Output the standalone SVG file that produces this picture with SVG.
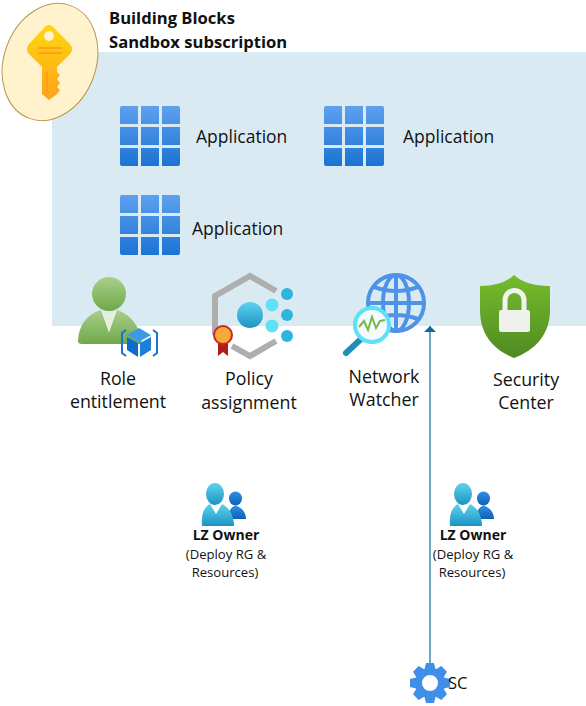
<svg xmlns="http://www.w3.org/2000/svg" xmlns:xlink="http://www.w3.org/1999/xlink" width="586" height="706" viewBox="0 0 586 706">
<style>
text{font-family:"Open Sans","Noto Sans","Liberation Sans",sans-serif;fill:#111}
.t{font-size:16.6px}
.a{font-size:17.500px}
.c{font-size:17.800px;text-anchor:middle}
.b{font-weight:700}
.s{font-size:13.100px;text-anchor:middle}
.o{font-size:14px;font-weight:700;text-anchor:middle}
</style>
<defs>
<linearGradient id="gb" gradientUnits="userSpaceOnUse" x1="0" y1="0" x2="0" y2="60"><stop offset="0" stop-color="#5ea0ef"/><stop offset="1" stop-color="#1b73d3"/></linearGradient>
<linearGradient id="gk" x1="0" y1="0" x2="0" y2="1"><stop offset="0" stop-color="#ffd70f"/><stop offset="1" stop-color="#fea11b"/></linearGradient>
<linearGradient id="gg" x1="0" y1="0" x2="0" y2="1"><stop offset="0" stop-color="#a9cf8a"/><stop offset="1" stop-color="#6fa84a"/></linearGradient>
<linearGradient id="gs" x1="0" y1="0" x2="0" y2="1"><stop offset="0" stop-color="#76bc2d"/><stop offset="1" stop-color="#4f8a22"/></linearGradient>
<linearGradient id="gc" x1="0" y1="0" x2="0" y2="1"><stop offset="0" stop-color="#5fd3ee"/><stop offset="1" stop-color="#1b93c4"/></linearGradient>
<linearGradient id="gd" x1="0" y1="0" x2="0" y2="1"><stop offset="0" stop-color="#2f8fe6"/><stop offset="1" stop-color="#0f5fb5"/></linearGradient>
<marker id="arr" markerWidth="8" markerHeight="12" refX="6" refY="6" orient="auto" markerUnits="userSpaceOnUse"><path d="M0 0L6 6L0 12Z" fill="#0f6a9c"/></marker>
<g id="grid" fill="url(#gb)">
<path d="M0 2a2 2 0 0 1 2-2H18V18H0Z M21 0H39V18H21Z M42 0H58a2 2 0 0 1 2 2V18H42Z"/>
<path d="M0 21H18V39H0Z M21 21H39V39H21Z M42 21H60V39H42Z"/>
<path d="M0 42H18V60H2a2 2 0 0 1-2-2Z M21 42H39V60H21Z M42 42H60V58a2 2 0 0 1-2 2H42Z"/>
</g>
<g id="owner">
<ellipse cx="20.500" cy="14.500" rx="6.500" ry="7" fill="url(#gd)"/>
<path d="M13 35C13 27 16 23 20.500 21.500C26 23 31 28 31 35Z" fill="url(#gd)"/>
<ellipse cx="0" cy="10" rx="9" ry="11" fill="url(#gc)"/>
<path d="M-13 42C-14 30 -11 23 -5 20L1 30L7 20C13 23 19 30 19 42Z" fill="url(#gc)"/>
</g>
<path id="tooth" d="M-4 -20H4L6 -12H-6Z" fill="#3f8fe8"/>
</defs>

<rect id="panel" x="52" y="52" width="534" height="274" fill="#d9eaf3"/>

<g id="key">
<ellipse cx="50" cy="62" rx="46" ry="60" transform="rotate(20 50 62)" fill="#fff2cc" stroke="#b49a50"/>
<path d="M49 25Q52 25 55 29L70 44Q74 49 70 54L57 67V72L60 75L57 79L60 83L57 87L60 90L57 94L49 100L42 94V67L29 54Q25 49 29 44L43 29Q46 25 49 25Z" fill="url(#gk)"/>
<circle cx="49" cy="36" r="5" fill="#fff2cc"/>
<path d="M38 48H62M38 53H62M47 72V94" stroke="#fd9c12" stroke-width="1.500" fill="none"/>
</g>
<g id="title"><text class="t b" x="109" y="24">Building Blocks</text><text class="t b" x="109" y="48">Sandbox subscription</text></g>

<g id="app1"><use xlink:href="#grid" x="120" y="106"/><text class="a" x="196" y="143">Application</text></g>
<g id="app2"><use xlink:href="#grid" x="324" y="106"/><text class="a" x="403" y="143">Application</text></g>
<g id="app3"><use xlink:href="#grid" x="120" y="195"/><text class="a" x="192" y="235">Application</text></g>

<g id="role">
<path d="M78 341C79 325 86 315 101 310L109 332L117 310C132 315 140 327 142 344H82Q78 344 78 341Z" fill="url(#gg)"/>
<path d="M101 310L109 332L117 310L109 314Z" fill="#e6efdc"/>
<circle cx="109" cy="294" r="17" fill="url(#gg)"/>
<path d="M126 330L122 333V353L126 356M153 330L157 333V353L153 356" stroke="#1b73cf" stroke-width="2" fill="none"/>
<path d="M139 328L151 335L139 342L127 335Z" fill="#3a9ae6"/>
<path d="M127 337L138 343V357L127 350Z" fill="#0f6cc9"/>
<path d="M151 337L140 343V357L151 350Z" fill="#1b7fdb"/>
<text class="c" x="118" y="385">Role</text><text class="c" x="118" y="408">entitlement</text>
</g>

<g id="policy">
<path d="M276 291L250 276L215 296V335" fill="none" stroke="#aeaeae" stroke-width="6"/>
<path d="M232 346L250 356L276 341" fill="none" stroke="#aeaeae" stroke-width="6"/>
<circle cx="250" cy="315" r="13" fill="url(#gc)"/>
<circle cx="272" cy="305" r="6.500" fill="#5ee0f7"/><circle cx="272" cy="326" r="6.500" fill="#5ee0f7"/>
<circle cx="287" cy="294" r="6" fill="#2fb4dd"/><circle cx="287" cy="315" r="6" fill="#2fb4dd"/><circle cx="287" cy="336" r="6" fill="#2fb4dd"/>
<path d="M218 340V356L223 352L228 356V340Z" fill="#b11b1b"/>
<circle cx="223" cy="335" r="9" fill="#f9a83a" stroke="#c8281e" stroke-width="2"/>
<text class="c" x="249" y="385">Policy</text><text class="c" x="249" y="409">assignment</text>
</g>

<g id="watcher">
<circle cx="396" cy="303" r="28" fill="none" stroke="#4f93e8" stroke-width="4"/>
<ellipse cx="396" cy="303" rx="13" ry="28" fill="none" stroke="#4f93e8" stroke-width="4"/>
<path d="M396 275V331M368 303H424M374 287Q396 295 418 287M374 319Q396 311 418 319" fill="none" stroke="#4f93e8" stroke-width="4"/>
<path d="M361 339L346 353" stroke="#1f8eb5" stroke-width="6" stroke-linecap="round"/>
<circle cx="372" cy="325" r="17" fill="#f4fbfe" stroke="#5ee0f7" stroke-width="4"/>
<path d="M359 327L364 321L368 330L372 317L376 328L380 321L385 320" fill="none" stroke="#7ab648" stroke-width="2"/>
<text class="c" x="384" y="383">Network</text><text class="c" x="384" y="406">Watcher</text>
</g>

<g id="security">
<path d="M480 286Q503 286 514 275Q526 286 550 286V310C550 335 535 350 514 358C494 350 480 335 480 310Z" fill="url(#gs)"/>
<path d="M505 312V300a9.500 9.500 0 0 1 19 0V312" fill="none" stroke="#f0f3ee" stroke-width="5"/>
<rect x="499" y="310" width="31" height="22" rx="2" fill="#eef1ec"/>
<text class="c" x="526" y="386">Security</text><text class="c" x="526" y="409">Center</text>
</g>

<g id="owner1"><use xlink:href="#owner" x="215" y="484"/><text class="o" x="226" y="540">LZ Owner</text><text class="s" x="226" y="559">(Deploy RG &amp;</text><text class="s" x="225" y="577">Resources)</text></g>
<g id="owner2"><use xlink:href="#owner" x="463" y="484"/><text class="o" x="473" y="540">LZ Owner</text><text class="s" x="473" y="559">(Deploy RG &amp;</text><text class="s" x="472" y="577">Resources)</text></g>

<g id="connectors"><path d="M430 665V326" fill="none" stroke="#0f6a9c" stroke-width="1.200" marker-end="url(#arr)"/></g>

<g id="sc">
<circle cx="430" cy="683" r="11.500" fill="none" stroke="#3f8fe8" stroke-width="7"/>
<g transform="translate(430 683)">
<use xlink:href="#tooth"/><use xlink:href="#tooth" transform="rotate(45)"/><use xlink:href="#tooth" transform="rotate(90)"/><use xlink:href="#tooth" transform="rotate(135)"/><use xlink:href="#tooth" transform="rotate(180)"/><use xlink:href="#tooth" transform="rotate(225)"/><use xlink:href="#tooth" transform="rotate(270)"/><use xlink:href="#tooth" transform="rotate(315)"/>
</g>
<text class="t" x="448" y="689">SC</text>
</g>
</svg>
